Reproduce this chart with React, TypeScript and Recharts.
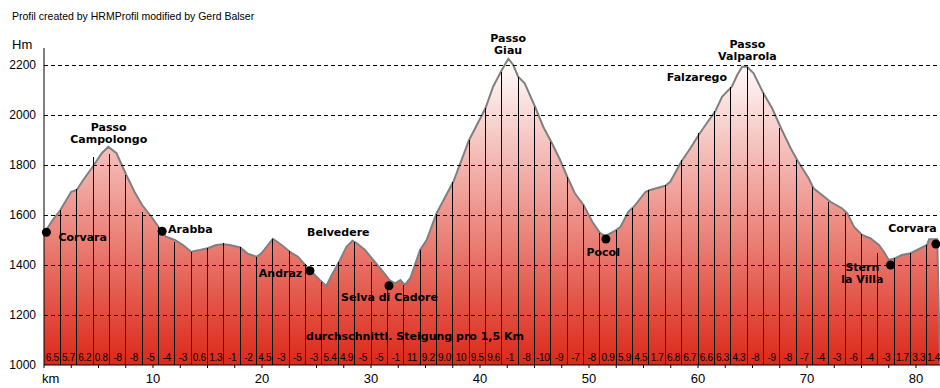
import { ComposedChart, Area, XAxis, YAxis, ReferenceLine, Scatter } from "recharts"

// profile of the round, km / Hm
const profileKm = [
  0, 0.2, 0.8, 1.5, 2.05, 2.5, 3.0, 3.6, 4.5, 5.3, 5.9, 6.65, 7.55, 8.3, 9.0, 9.85, 10.5, 11.2, 12.0, 12.75,
  13.5, 14.3, 15.0, 15.8, 16.5, 17.05, 18.0, 18.7, 19.5, 19.95, 21.0, 21.8, 22.55, 23.3, 24.1, 24.55, 25.3, 25.9,
  26.4, 27.05, 27.75, 28.3, 28.7, 29.45, 30.2, 31.1, 31.7, 32.2, 32.7, 33.1, 33.6, 34.5, 35.1, 36.0, 36.5, 37.55,
  39.0, 40.5, 41.2, 42.0, 42.6, 43.05, 43.5, 44.1, 45.05, 45.8, 46.6, 47.35, 48.0, 48.7, 49.5, 50.3, 51.0, 51.5,
  52.25, 52.9, 53.6, 54.1, 55.2, 55.6, 57.0, 57.45, 58.5, 59.3, 60.1, 60.8, 61.6, 62.2, 63.1, 63.6, 64.05, 64.5,
  65.1, 66.0, 66.8, 67.65, 68.5, 69.15, 70.15, 70.6, 72.15, 73.2, 73.7, 74.3, 75.05, 75.8, 76.6, 77.05, 77.5,
  78.1, 78.7, 79.5, 80.1, 81.0, 81.2, 81.95, 82.2,
]
const profileElev = [
  1530, 1540, 1580, 1620, 1660, 1693, 1700, 1740, 1795, 1847, 1873, 1847, 1760, 1693, 1640, 1593, 1553, 1513, 1500, 1480,
  1453, 1460, 1467, 1480, 1483, 1480, 1470, 1445, 1433, 1447, 1505, 1480, 1453, 1433, 1393, 1373, 1340, 1316,
  1360, 1411, 1473, 1497, 1487, 1460, 1420, 1373, 1340, 1327, 1340, 1320, 1347, 1460, 1500, 1605, 1647, 1733,
  1900, 2027, 2113, 2180, 2225, 2200, 2153, 2127, 2033, 1953, 1887, 1820, 1753, 1687, 1640, 1573, 1529, 1516,
  1533, 1553, 1613, 1633, 1693, 1700, 1717, 1733, 1816, 1867, 1923, 1967, 2016, 2073, 2113, 2160, 2193, 2193,
  2167, 2087, 2027, 1944, 1867, 1816, 1747, 1707, 1653, 1627, 1607, 1553, 1520, 1507, 1480, 1453, 1420,
  1427, 1440, 1447, 1460, 1480, 1503, 1503, 1000,
]

// the black marks every 1,5 km and how high they reach
const stationKm = [
  1.5, 3, 4.5, 6, 7.5, 9, 10.5, 12, 13.5, 15, 16.5, 18, 19.5, 21, 22.5, 24, 25.5, 27, 28.5, 30, 31.5, 33, 34.5, 36,
  37.5, 39, 40.5, 42, 43.5, 45, 46.5, 48, 49.5, 51, 52.5, 54, 55.5, 57, 58.5, 60, 61.5, 63, 64.5, 66, 67.5, 69,
  70.5, 72, 73.5, 75, 76.5, 78, 79.5, 81,
]
const stationElev = [
  1620, 1704, 1833, 1844, 1760, 1613, 1553, 1493, 1453, 1467, 1487, 1473, 1433, 1503, 1457, 1405, 1333, 1413,
  1493, 1413, 1333, 1320, 1460, 1605, 1733, 1900, 2027, 2173, 2151, 2033, 1893, 1753, 1640, 1529, 1540, 1627,
  1700, 1720, 1820, 1927, 2016, 2113, 2193, 2087, 1947, 1820, 1713, 1653, 1607, 1523, 1450, 1427, 1447, 1480,
]

// durchschnittl. Steigung pro 1,5 Km
const gradeKm = [
  0.75, 2.25, 3.75, 5.25, 6.75, 8.25, 9.75, 11.25, 12.75, 14.25, 15.75, 17.25, 18.75, 20.25, 21.75, 23.25, 24.75,
  26.25, 27.75, 29.25, 30.75, 32.25, 33.75, 35.25, 36.75, 38.25, 39.75, 41.25, 42.75, 44.25, 45.75, 47.25, 48.75,
  50.25, 51.75, 53.25, 54.75, 56.25, 57.75, 59.25, 60.75, 62.25, 63.75, 65.25, 66.75, 68.25, 69.75, 71.25, 72.75,
  74.25, 75.75, 77.25, 78.75, 80.25, 81.6,
]
const gradeText = [
  "6.5", "5.7", "6.2", "0.8", "-8", "-8", "-5", "-4", "-3", "0.6", "1.3", "-1", "-2", "4.5", "-3", "-5", "-3",
  "5.4", "4.9", "-5", "-5", "-1", "11", "9.2", "9.0", "10", "9.5", "9.6", "-1", "-8", "-10", "-9", "-7", "-8",
  "0.9", "5.9", "4.5", "1.7", "6.8", "6.7", "6.6", "6.3", "4.3", "-8", "-9", "-8", "-7", "-4", "-3", "-6", "-4",
  "-3", "1.7", "3.3", "1.4",
]

// towns on the route (black dots)
const townKm = [0.22, 10.84, 24.4, 31.65, 51.55, 77.66, 81.82]
const townElev = [1531, 1535, 1377, 1317, 1504, 1400, 1484]

// place names, anchored at the baseline row of the last line
const placeText = [
  ["Corvara"], ["Passo", "Campolongo"], ["Arabba"], ["Belvedere"], ["Andraz"], ["Selva di Cadore"],
  ["Passo", "Giau"], ["Pocol"], ["Falzarego"], ["Passo", "Valparola"], ["Stern", "la Villa"], ["Corvara"],
  ["durchschnittl. Steigung pro 1,5 Km"],
]
const placeKm = [3.55, 5.94, 13.43, 27.0, 21.7, 31.7, 42.58, 51.3, 59.9, 64.53, 75.08, 79.68, 34.04]
const placeElev = [1512, 1904, 1544, 1532, 1368, 1272, 2260, 1452, 2152, 2236, 1344, 1548, 1116]

const yTicks = [1000, 1200, 1400, 1600, 1800, 2000, 2200]
const gridTicks = [1200, 1400, 1600, 1800, 2000, 2200]
const xTicks = [
  0, 2.5, 5, 7.5, 10, 12.5, 15, 17.5, 20, 22.5, 25, 27.5, 30, 32.5, 35, 37.5, 40, 42.5, 45, 47.5, 50, 52.5, 55,
  57.5, 60, 62.5, 65, 67.5, 70, 72.5, 75, 77.5, 80,
]

const profile = profileKm.map((k, i) => ({ km: k, elev: profileElev[i] }))
const towns = townKm.map((k, i) => ({ km: k, elev: townElev[i] }))
const grades = gradeKm.map((k, i) => ({ km: k, elev: 1032, text: gradeText[i] }))
const places = placeKm.map((k, i) => ({ km: k, elev: placeElev[i], lines: placeText[i] }))

const KmTick = ({ x, y, payload }: any) => {
  const v = payload.value
  if (v % 10 !== 0) return <g />
  return (
    <text x={v === 0 ? x - 2 : x} y={y} dy={13} textAnchor={v === 0 ? "start" : "middle"}
      fontSize={13} fontFamily="Liberation Sans" fill="#000">
      {v === 0 ? "km" : v}
    </text>
  )
}

const PlaceLabel = ({ cx, cy, payload }: any) => {
  const lines: string[] = payload.lines
  return (
    <text textAnchor="middle" fontSize={11} fontWeight="bold" fontFamily="DejaVu Sans" fill="#000">
      {lines.map((l, i) => (
        <tspan key={i} x={cx} y={cy + (i - (lines.length - 1)) * 12} dominantBaseline="central">{l}</tspan>
      ))}
    </text>
  )
}

const GradeLabel = ({ cx, cy, payload }: any) => (
  <text x={cx} y={cy} textAnchor="middle" dominantBaseline="central" fontSize={10}
    fontFamily="Liberation Sans" letterSpacing={-0.3} fill="#000">
    {payload.text}
  </text>
)

const TownDot = ({ cx, cy }: any) => <circle cx={cx} cy={cy} r={4.5} fill="#000" />

export default function App() {
  return (
    <div style={{ position: "absolute", left: 0, top: 0, width: 940, height: 388, background: "#fff" }}>
      <div style={{ position: "absolute", left: 12, top: 10, fontSize: 10.5, fontFamily: "Liberation Sans", color: "#000" }}>
        Profil created by HRMProfil modified by Gerd Balser
      </div>
      <div style={{ position: "absolute", left: 12, top: 37, fontSize: 13, fontFamily: "Liberation Sans", color: "#000" }}>
        Hm
      </div>
      <ComposedChart width={940} height={388} data={profile} margin={{ top: 48, right: 0, bottom: 0, left: 0 }}>
        <defs>
          <linearGradient id="elevFill" x1="0" y1="0" x2="0" y2="1">
            <stop offset="0%" stopColor="#ffffff" />
            <stop offset="100%" stopColor="#dc2818" />
          </linearGradient>
        </defs>
        <XAxis dataKey="km" type="number" domain={[0, 82.2]} ticks={xTicks} height={23}
          axisLine={{ stroke: "#000" }} tickLine={{ stroke: "#000" }} tickSize={3} tickMargin={2} tick={<KmTick />} />
        <YAxis type="number" domain={[1000, 2268]} ticks={yTicks} width={44}
          axisLine={{ stroke: "#000" }} tickLine={false}
          tick={{ fill: "#000", fontSize: 12, fontFamily: "Liberation Sans" }} />
        <Area type="linear" dataKey="elev" stroke="#808080" strokeWidth={2} fill="url(#elevFill)"
          fillOpacity={1} baseValue={1000} isAnimationActive={false} />
        {stationKm.map((k, i) => (
          <ReferenceLine key={"s" + k} segment={[{ x: k, y: 1000 }, { x: k, y: stationElev[i] }]}
            stroke="#000" strokeWidth={1} shapeRendering="crispEdges" />
        ))}
        {gridTicks.map((v) => (
          <ReferenceLine key={"g" + v} y={v} stroke="#000" strokeDasharray="4 3" shapeRendering="crispEdges" />
        ))}
        <Scatter data={towns} dataKey="elev" shape={<TownDot />} isAnimationActive={false} />
        <Scatter data={grades} dataKey="elev" shape={<GradeLabel />} isAnimationActive={false} />
        <Scatter data={places} dataKey="elev" shape={<PlaceLabel />} isAnimationActive={false} />
      </ComposedChart>
    </div>
  )
}
